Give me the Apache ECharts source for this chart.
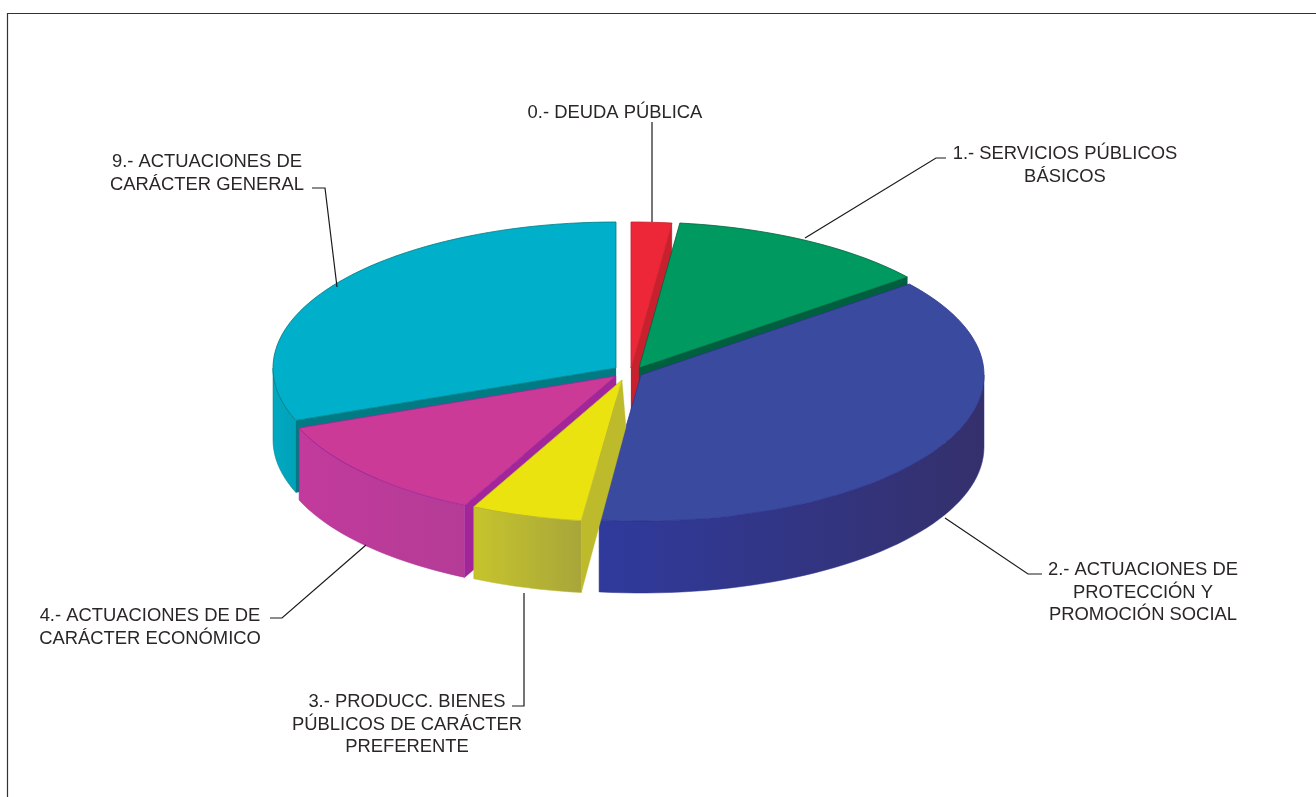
<!DOCTYPE html>
<html><head><meta charset="utf-8">
<style>html,body{margin:0;padding:0;background:#fff}#c{width:1316px;height:797px}</style>
<script src="https://cdn.jsdelivr.net/npm/echarts@6/dist/echarts.min.js"></script>
</head><body><div id="c"></div>
<script>
var categories = ['0.- DEUDA PÚBLICA','1.- SERVICIOS PÚBLICOS\nBÁSICOS','2.- ACTUACIONES DE\nPROTECCIÓN Y\nPROMOCIÓN SOCIAL','3.- PRODUCC. BIENES\nPÚBLICOS DE CARÁCTER\nPREFERENTE','4.- ACTUACIONES DE DE\nCARÁCTER ECONÓMICO','9.- ACTUACIONES DE\nCARÁCTER GENERAL'];
var values = [1.9, 12.4, 37.65, 5.4, 11.8, 30.85];
var topColors = ['#ee2738','#009a61','#3a4b9f','#ebe30f','#cb3a97','#00afc9'];
var cutColors = ['#c9202e','#005f3e','#2f3590','#bdbb2c','#a2269a','#007b83'];
var wallFrom  = ['#c1222e','#00804f','#2f3a9c','#c6c42c','#c23a9c','#00a9c2'];
var wallTo    = ['#c1222e','#00804f','#35306c','#a8a63a','#b43c96','#00a2b8'];
var centerX = [631,639,641,622,616,616];
var centerY = [368,368,375,380,376,368];
var radiusScale = [1,1,1,0.97,0.99,1];
var cutApexDx = [0,0,0,4,0,0];
var cutApexDrop = [72,72,72,47,72,72];
var drawOrder = [5,0,1,2,4,3];
var RX = 343, RY = 146, DEPTH = 72, STEP = 2;

var starts = [], ends = [], acc = 0;
values.forEach(function(v){ starts.push(acc); acc += v*3.6; ends.push(acc); });

function rim(i, deg, drop){
  var r = deg*Math.PI/180, s = radiusScale[i];
  return [centerX[i]+RX*s*Math.sin(r), centerY[i]-RY*s*Math.cos(r)+(drop||0)];
}
function arc(i, a, b, drop){
  var pts = [], n = Math.max(2, Math.ceil(Math.abs(b-a)/STEP));
  for (var k=0;k<=n;k++) pts.push(rim(i, a+(b-a)*k/n, drop));
  return pts;
}
function poly(points, fill, stroke){
  return {type:'polygon', shape:{points:points}, style:{fill:fill, stroke:stroke||fill, lineWidth:stroke?0.8:0.3, lineJoin:'round'}};
}
function renderSlice(params, api){
  var i = api.value(0), a = starts[i], b = ends[i], ch = [];
  var cTop = [centerX[i], centerY[i]], cBot = [centerX[i]+cutApexDx[i], centerY[i]+cutApexDrop[i]];
  // flat cut faces that look at the viewer
  if (Math.sin(a*Math.PI/180) < -0.001) ch.push(poly([cTop, rim(i,a), rim(i,a,DEPTH), cBot], cutColors[i]));
  if (Math.sin(b*Math.PI/180) > 0.001) ch.push(poly([cTop, rim(i,b), rim(i,b,DEPTH), cBot], cutColors[i]));
  // curved outer wall (front half only)
  var wa = Math.max(a, 90), wb = Math.min(b, 270);
  if (wb > wa){
    var t = arc(i, wa, wb, 0), l = arc(i, wb, wa, DEPTH);
    var x0 = rim(i,wa)[0], x1 = rim(i,wb)[0];
    var grad = new echarts.graphic.LinearGradient(x1,0,x0,0,[{offset:0,color:wallFrom[i]},{offset:1,color:wallTo[i]}],true);
    ch.push({type:'polygon', shape:{points:t.concat(l)}, style:{fill:grad, stroke:cutColors[i], lineWidth:0.5}});
  }
  // top face
  ch.push(poly([cTop].concat(arc(i,a,b,0)), topColors[i], cutColors[i]));
  return {type:'group', children:ch};
}

var labelX = [615,1065,1143,407,150,207];
var labelY = [113,154,570,702,616,162];
var leaders = [
  [[652,122],[652,222]],
  [[946,158],[936,158],[805,238]],
  [[945,518],[1028,574],[1042,574]],
  [[524,593],[524,706],[512,706]],
  [[366,545],[282,618],[270,618]],
  [[337,287],[325,188],[312,188]]
];
var graphics = [];
categories.forEach(function(name,i){
  graphics.push({type:'text', z:10, x:labelX[i], y:labelY[i]-11, style:{text:name, font:'18.4px "Liberation Sans", Arial, sans-serif', lineHeight:22.4, fill:'#2a2627', align:'center', verticalAlign:'top'}});
  graphics.push({type:'polyline', z:10, shape:{points:leaders[i]}, style:{fill:null, stroke:'#1a1a1a', lineWidth:1.2}});
});
graphics.push({type:'polyline', z:1, shape:{points:[[7.5,797],[7.5,13.5],[1316,13.5]]}, style:{fill:null, stroke:'#333', lineWidth:1.2}});

var chart = echarts.init(document.getElementById('c'), null, {renderer:'canvas'});
chart.setOption({
  animation:false,
  backgroundColor:'#fff',
  graphic:graphics,
  series:[{type:'custom', coordinateSystem:'none', renderItem:renderSlice, silent:true, clip:false,
    data:drawOrder.map(function(i){return [i, values[i]];})}]
});
</script></body></html>
